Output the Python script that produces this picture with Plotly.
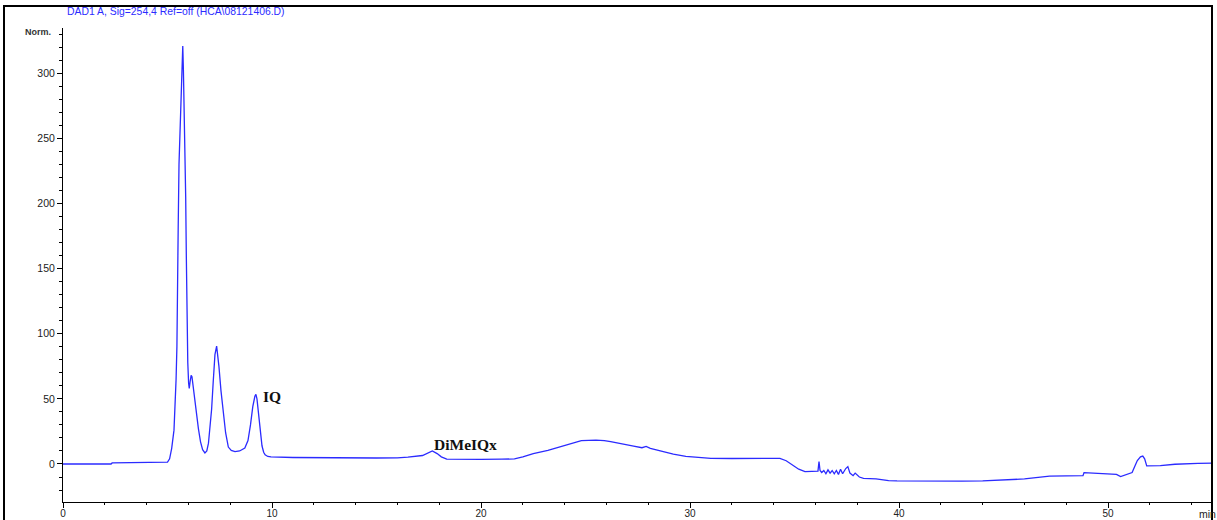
import plotly.graph_objects as go

# Retention time (min) and detector response (Norm.) of the DAD1 A trace
time_min = [
    0.0, 2.30, 2.35, 4.80, 5.00, 5.10, 5.20, 5.31, 5.37, 5.41, 5.45, 5.48, 5.51,
    5.55, 5.60, 5.65, 5.69, 5.73, 5.76, 5.80, 5.84, 5.87, 5.90, 5.93, 5.95, 5.97,
    6.01, 6.04, 6.08, 6.13, 6.17, 6.22, 6.30, 6.39, 6.48, 6.58, 6.68, 6.79, 6.88,
    6.96, 7.04, 7.11, 7.19, 7.27, 7.35, 7.40, 7.46, 7.56, 7.67, 7.78, 7.91, 8.05,
    8.23, 8.45, 8.70, 8.85, 8.97, 9.08, 9.18, 9.23, 9.28, 9.35, 9.43, 9.52, 9.60,
    9.67, 9.80, 9.95, 11.0, 12.0, 13.0, 14.0, 15.0, 16.0, 16.5, 17.2, 17.4, 17.67,
    17.9, 18.1, 18.36, 19.0, 20.0, 21.0, 21.6, 22.0, 22.5, 23.2, 23.8, 24.3, 24.8,
    25.5, 25.9, 26.2, 26.8, 27.3, 27.7, 27.9, 28.1, 28.6, 29.2, 29.8, 30.5, 31.0,
    32.0, 33.0, 34.3, 34.6, 34.9, 35.2, 35.5, 36.0, 36.12, 36.17, 36.22, 36.3,
    36.4, 36.5, 36.6, 36.7, 36.8, 36.9, 37.0, 37.1, 37.2, 37.3, 37.45, 37.55,
    37.65, 37.8, 37.9, 38.1, 38.3, 38.9, 39.5, 39.9, 41.0, 42.0, 43.0, 44.0, 45.0,
    46.0, 47.2, 48.8, 48.85, 49.5, 50.4, 50.6, 50.8, 51.15, 51.3, 51.4, 51.55,
    51.66, 51.75, 51.85, 52.5, 53.2, 54.3, 55.0,
]
response = [
    0.0, 0.0, 0.8, 1.0, 1.5, 4, 12, 26, 45, 65, 90, 120, 180,
    230, 258, 285, 305, 321, 303, 270, 240, 205, 160, 120, 100, 78,
    62, 58, 63, 68, 67, 60, 48, 39, 27, 17, 11, 8.5, 10,
    16, 28, 42, 64, 84, 90.5, 85, 75, 56, 39, 24, 13, 10.5,
    9.5, 10, 12.3, 18, 30, 44, 52, 53.5, 50, 40, 26, 14, 9,
    7, 5.8, 5.4, 5.0, 4.8, 4.7, 4.6, 4.6, 4.7, 5.2, 6.5, 8, 10,
    8, 5.5, 3.8, 3.6, 3.6, 3.7, 3.9, 5.5, 8, 10.5, 13.3, 15.5, 17.9,
    18.4, 18, 17.1, 15.5, 13.8, 12.5, 13.5, 12, 10, 7.5, 5.8, 4.7, 4.3,
    4.2, 4.3, 4.3, 2.5, -0.8, -4, -5.9, -6, -5.5, 1.8, -5, -6.5,
    -5, -7.5, -4.5, -7, -5, -7.5, -5, -8, -4, -7.5, -3.5, -2,
    -7, -9, -7, -10, -11, -11.5, -12.8, -13, -13.2, -13.3, -13.2, -13, -12.5,
    -11.5, -9.3, -9, -6.6, -7.2, -8, -9.7, -8.5, -6.6, -1, 2.6, 5.5,
    6.1, 4, -1.5, -1.3, -0.2, 0.5, 0.6,
]

# Peak labels: (name, time, response at label centre)
peak_names = ["IQ", "DiMeIQx"]
peak_label_t = [10.0, 19.28]
peak_label_v = [51.5, 14.6]

fig = go.Figure()
fig.add_trace(go.Scatter(
    x=time_min, y=response, mode="lines",
    line=dict(color="#2b2bff", width=1.3),
    hoverinfo="skip", showlegend=False,
))

for name, t, v in zip(peak_names, peak_label_t, peak_label_v):
    fig.add_annotation(
        x=t, y=v, xref="x", yref="y", text=f"<b>{name}</b>", showarrow=False,
        font=dict(family="Liberation Serif", size=15.5, color="#111111"),
        xanchor="center", yanchor="middle",
    )

# Header, unit and axis-name texts
fig.add_annotation(
    x=(65 - 63) / 1150, y=(502 - 12) / 474, xref="paper", yref="paper",
    text="DAD1 A, Sig=254,4 Ref=off (HCA\\08121406.D)", showarrow=False,
    font=dict(family="Liberation Sans", size=10.4, color="#2b2bff"),
    xanchor="left", yanchor="middle",
)
fig.add_annotation(
    x=(53 - 63) / 1150, y=(502 - 32) / 474, xref="paper", yref="paper",
    text="<b>Norm.</b>", showarrow=False,
    font=dict(family="Liberation Sans", size=9, color="#333333"),
    xanchor="right", yanchor="middle",
)
fig.add_annotation(
    x=(1197 - 63) / 1150, y=(502 - 514) / 474, xref="paper", yref="paper",
    text="min", showarrow=False,
    font=dict(family="Liberation Sans", size=10.5, color="#222222"),
    xanchor="left", yanchor="middle",
)

# Outer frame around the whole report panel
fig.add_shape(
    type="rect", xref="paper", yref="paper",
    x0=(4 - 63) / 1150, x1=(1212 - 63) / 1150,
    y0=(502 - 540) / 474, y1=(502 - 6) / 474,
    line=dict(color="black", width=2), fillcolor="rgba(0,0,0,0)",
)

axis_font = dict(family="Liberation Sans", size=10.5, color="#222222")
fig.update_layout(
    width=1217, height=520,
    margin=dict(l=63, r=4, t=28, b=18, autoexpand=False),
    paper_bgcolor="white", plot_bgcolor="white",
    xaxis=dict(
        range=[0, 55.02], dtick=10, tick0=0, showgrid=False, zeroline=False,
        showline=True, linecolor="black", linewidth=1, automargin=False,
        ticks="outside", ticklen=5, tickcolor="black", tickwidth=1,
        ticklabelstandoff=-3,
        minor=dict(dtick=2, ticks="outside", ticklen=2, tickcolor="black", showgrid=False),
        tickfont=dict(family="Liberation Sans", size=10, color="#222222"),
    ),
    yaxis=dict(
        range=[-29.2, 334.9], dtick=50, tick0=0, showgrid=False, zeroline=False,
        showline=True, linecolor="black", linewidth=1, automargin=False,
        ticks="outside", ticklen=5, tickcolor="black", tickwidth=1,
        minor=dict(dtick=10, ticks="outside", ticklen=3, tickcolor="black", showgrid=False),
        tickfont=axis_font,
    ),
)

fig.write_html("out.html")
